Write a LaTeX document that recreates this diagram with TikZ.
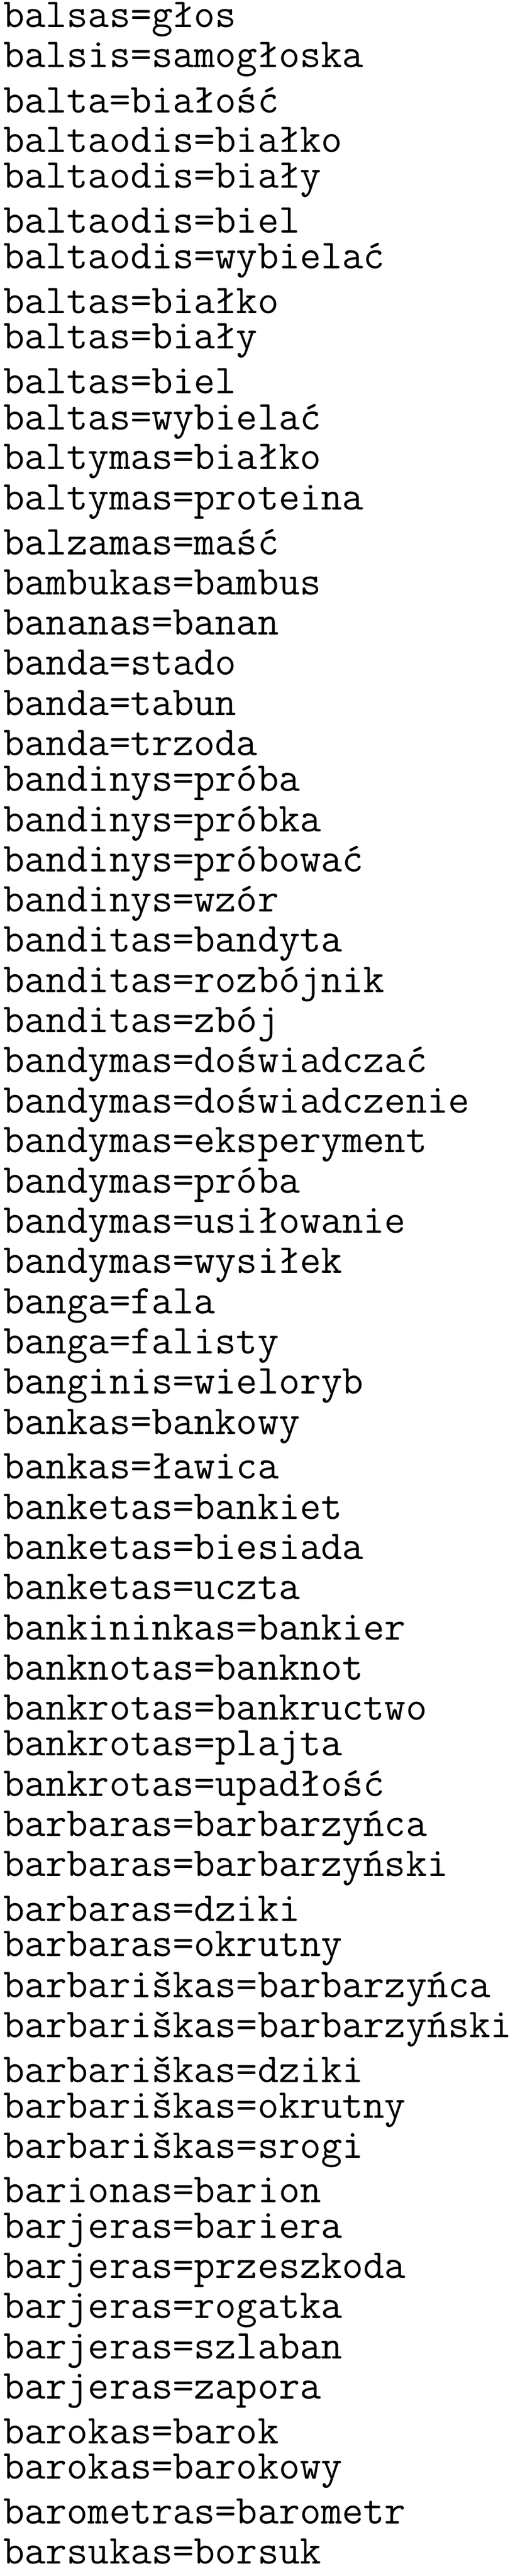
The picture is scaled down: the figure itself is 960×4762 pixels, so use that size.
\documentclass[tikz,border=0pt]{standalone}
\usepackage{fontspec}
\usetikzlibrary{positioning}

\begin{document}
\begin{tikzpicture}[
    x=0.5pt, y=0.5pt,
    entry/.style={anchor=west, inner sep=0pt, font=\fontsize{38pt}{38pt}\selectfont\ttfamily}
]

% Page frame
\useasboundingbox (0,0) rectangle (960,-4762);

% Word list
\foreach \w [count=\i] in {balsas=głos, balsis=samogłoska, balta=białość, baltaodis=białko,
    baltaodis=biały, baltaodis=biel, baltaodis=wybielać, baltas=białko, baltas=biały,
    baltas=biel, baltas=wybielać, baltymas=białko, baltymas=proteina, balzamas=maść,
    bambukas=bambus, bananas=banan, banda=stado, banda=tabun, banda=trzoda,
    bandinys=próba, bandinys=próbka, bandinys=próbować, bandinys=wzór,
    banditas=bandyta, banditas=rozbójnik, banditas=zbój, bandymas=doświadczać,
    bandymas=doświadczenie, bandymas=eksperyment, bandymas=próba,
    bandymas=usiłowanie, bandymas=wysiłek, banga=fala, banga=falisty,
    banginis=wieloryb, bankas=bankowy, bankas=ławica, banketas=bankiet,
    banketas=biesiada, banketas=uczta, bankininkas=bankier, banknotas=banknot,
    bankrotas=bankructwo, bankrotas=plajta, bankrotas=upadłość,
    barbaras=barbarzyńca, barbaras=barbarzyński, barbaras=dziki, barbaras=okrutny,
    barbariškas=barbarzyńca, barbariškas=barbarzyński, barbariškas=dziki,
    barbariškas=okrutny, barbariškas=srogi, barionas=barion, barjeras=bariera,
    barjeras=przeszkoda, barjeras=rogatka, barjeras=szlaban, barjeras=zapora,
    barokas=barok, barokas=barokowy, barometras=barometr, barsukas=borsuk} {
    \node[entry] (line\i) at (6,{-36-(\i-1)*74.3}) {\w};
}

\end{tikzpicture}
\end{document}
